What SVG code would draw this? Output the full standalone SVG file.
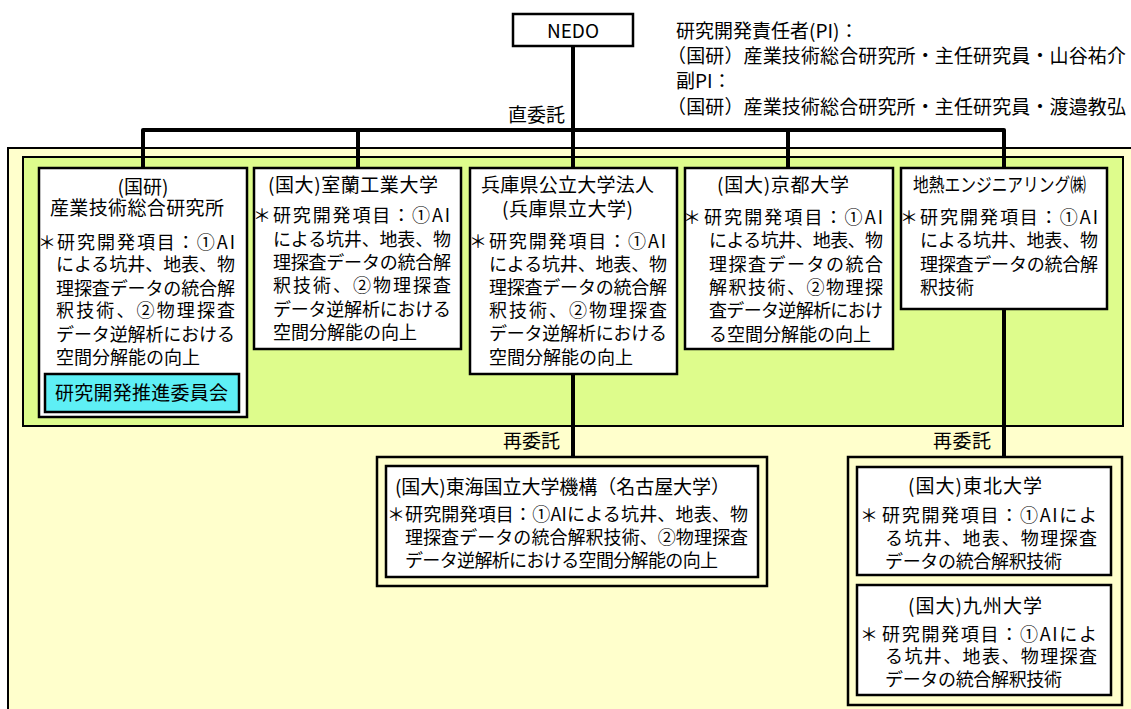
<svg xmlns="http://www.w3.org/2000/svg" width="1131" height="709" viewBox="0 0 1131 709">
<style>
.box{fill:#fff;stroke:#000;stroke-width:2.5}
.grp{fill:#FFFFCC;stroke:#000;stroke-width:2.5}
.con{fill:none;stroke:#000;stroke-width:4;stroke-linejoin:round}
text{font-family:"Noto Sans CJK JP","Noto Sans",sans-serif;fill:#000}
.t{font-size:18px}
.h{font-size:19px}
.c{text-anchor:middle}
</style>
<rect width="1131" height="709" fill="#fff"/>
<rect x="8" y="148" width="1140" height="600" fill="#FFFFCC" stroke="#000" stroke-width="2"/>
<rect x="23" y="157" width="1100" height="269" fill="#DEFC8C" stroke="#000" stroke-width="2"/>

<g id="connectors">
<path class="con" d="M143,168 V130 H1004 V168"/>
<line class="con" x1="358" y1="130" x2="358" y2="168"/>
<line class="con" x1="788" y1="130" x2="788" y2="168"/>
<line class="con" x1="573" y1="46" x2="573" y2="168"/>
<line class="con" x1="573" y1="374" x2="573" y2="457"/>
<line class="con" x1="1004" y1="309" x2="1004" y2="457"/>
<text class="h" x="508" y="122" textLength="57">直委託</text>
<text class="h" x="503" y="448" textLength="57">再委託</text>
<text class="h" x="933" y="448" textLength="58">再委託</text>
</g>

<g id="nedo">
<rect class="box" x="513" y="14" width="120" height="32"/>
<text class="h c" x="573" y="38" font-family="Noto Sans">NEDO</text>
</g>

<g id="pi">
<text class="h" x="676" y="38">研究開発責任者(PI)：</text>
<text class="h" x="667" y="63" textLength="459">（国研）産業技術総合研究所・主任研究員・山谷祐介</text>
<text class="h" x="676" y="88">副PI：</text>
<text class="h" x="667" y="114" textLength="459">（国研）産業技術総合研究所・主任研究員・渡邉教弘</text>
</g>

<g id="aist">
<rect class="box" x="39" y="168" width="208" height="249"/>
<text class="h c" x="143" y="194">(国研)</text>
<text class="h c" x="137" y="215" textLength="174">産業技術総合研究所</text>
<text class="t" x="38" y="249">＊</text>
<text class="t" x="57" y="249" textLength="178">研究開発項目：①AI</text>
<text class="t" x="56" y="271" textLength="179">による坑井、地表、物</text>
<text class="t" x="56" y="295" textLength="179">理探査データの統合解</text>
<text class="t" x="56" y="317" textLength="179">釈技術、②物理探査</text>
<text class="t" x="56" y="341" textLength="179">データ逆解析における</text>
<text class="t" x="56" y="364">空間分解能の向上</text>
<rect x="45" y="374" width="194" height="38" fill="#5EEFF5" stroke="#000" stroke-width="2.5"/>
<text class="h" x="55" y="400" textLength="173">研究開発推進委員会</text>
</g>

<g id="muroran">
<rect class="box" x="254" y="168" width="207" height="181"/>
<text class="h" x="268" y="192" textLength="170">(国大)室蘭工業大学</text>
<text class="t" x="253" y="222">＊</text>
<text class="t" x="273" y="222" textLength="177">研究開発項目：①AI</text>
<text class="t" x="273" y="246" textLength="178">による坑井、地表、物</text>
<text class="t" x="273" y="269" textLength="178">理探査データの統合解</text>
<text class="t" x="273" y="292" textLength="178">釈技術、②物理探査</text>
<text class="t" x="273" y="316" textLength="178">データ逆解析における</text>
<text class="t" x="273" y="339">空間分解能の向上</text>
</g>

<g id="hyogo">
<rect class="box" x="470" y="168" width="207" height="206"/>
<text class="h" x="481" y="192" textLength="173">兵庫県公立大学法人</text>
<text class="h" x="502" y="216" textLength="131">(兵庫県立大学)</text>
<text class="t" x="469" y="248">＊</text>
<text class="t" x="489" y="248" textLength="177">研究開発項目：①AI</text>
<text class="t" x="489" y="271" textLength="178">による坑井、地表、物</text>
<text class="t" x="489" y="294" textLength="178">理探査データの統合解</text>
<text class="t" x="489" y="317" textLength="178">釈技術、②物理探査</text>
<text class="t" x="489" y="340" textLength="178">データ逆解析における</text>
<text class="t" x="489" y="364">空間分解能の向上</text>
</g>

<g id="kyoto">
<rect class="box" x="685" y="168" width="208" height="181"/>
<text class="h" x="717" y="192" textLength="132">(国大)京都大学</text>
<text class="t" x="683" y="224">＊</text>
<text class="t" x="704" y="224" textLength="179">研究開発項目：①AI</text>
<text class="t" x="709" y="247" textLength="174">による坑井、地表、物</text>
<text class="t" x="709" y="271" textLength="174">理探査データの統合</text>
<text class="t" x="709" y="294" textLength="174">解釈技術、②物理探</text>
<text class="t" x="709" y="317" textLength="174">査データ逆解析におけ</text>
<text class="t" x="709" y="341">る空間分解能の向上</text>
</g>

<g id="chinetsu">
<rect class="box" x="901" y="168" width="206" height="141"/>
<text class="h" x="913" y="192" textLength="173" lengthAdjust="spacingAndGlyphs">地熱エンジニアリング㈱</text>
<text class="t" x="900" y="224">＊</text>
<text class="t" x="920" y="224" textLength="178">研究開発項目：①AI</text>
<text class="t" x="920" y="247" textLength="178">による坑井、地表、物</text>
<text class="t" x="920" y="271" textLength="178">理探査データの統合解</text>
<text class="t" x="920" y="294">釈技術</text>
</g>

<g id="nagoya">
<rect class="grp" x="377" y="457" width="390" height="129"/>
<rect class="box" x="386" y="466" width="372" height="111"/>
<text class="h" x="395" y="494" textLength="335">(国大)東海国立大学機構（名古屋大学）</text>
<text class="t" x="387" y="521">＊</text>
<text class="t" x="405" y="521" textLength="343">研究開発項目：①AIによる坑井、地表、物</text>
<text class="t" x="405" y="544" textLength="343">理探査データの統合解釈技術、②物理探査</text>
<text class="t" x="405" y="567" textLength="313">データ逆解析における空間分解能の向上</text>
</g>

<g id="subgroup">
<rect class="grp" x="848" y="457" width="274" height="248"/>
</g>

<g id="tohoku">
<rect class="box" x="857" y="467" width="254" height="108"/>
<text class="h" x="908" y="493" textLength="134">(国大)東北大学</text>
<text class="t" x="860" y="522">＊</text>
<text class="t" x="882" y="522" textLength="215">研究開発項目：①AIによ</text>
<text class="t" x="885" y="545" textLength="212">る坑井、地表、物理探査</text>
<text class="t" x="885" y="568" textLength="177">データの統合解釈技術</text>
</g>

<g id="kyushu">
<rect class="box" x="857" y="585" width="254" height="110"/>
<text class="h" x="908" y="613" textLength="134">(国大)九州大学</text>
<text class="t" x="860" y="641">＊</text>
<text class="t" x="882" y="641" textLength="215">研究開発項目：①AIによ</text>
<text class="t" x="885" y="663" textLength="212">る坑井、地表、物理探査</text>
<text class="t" x="885" y="686" textLength="177">データの統合解釈技術</text>
</g>
</svg>
